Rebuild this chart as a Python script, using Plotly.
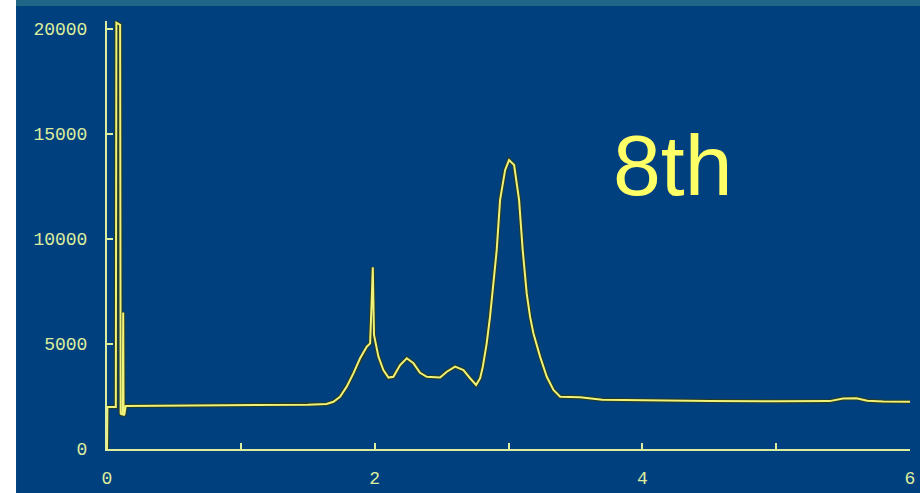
import plotly.graph_objects as go

# Retention time (min) and detector response
time_min = [0.000, 0.003, 0.060, 0.066, 0.070, 0.098, 0.102, 0.108, 0.118, 0.121, 0.124, 0.130, 0.140,
            0.50, 0.80, 1.20, 1.50, 1.64,
            1.692, 1.741, 1.791, 1.841, 1.891, 1.941, 1.966, 1.978, 1.986, 1.995, 2.028, 2.065, 2.103,
            2.140, 2.190, 2.240, 2.290, 2.339, 2.389, 2.489, 2.539, 2.601, 2.663, 2.713, 2.758, 2.788,
            2.808, 2.837, 2.862, 2.887, 2.912, 2.937, 2.975, 3.004, 3.042, 3.079, 3.106, 3.136, 3.161,
            3.186, 3.236, 3.286, 3.336, 3.386, 3.535, 3.70, 4.00, 4.50, 5.00, 5.40, 5.50, 5.60, 5.68,
            5.80, 6.02]
response = [0, 2000, 2000, 2000, 20300, 20200, 1700, 1650, 1650, 6500, 1600, 1650, 2050,
            2060, 2080, 2100, 2110, 2140,
            2250, 2490, 2970, 3600, 4320, 4870, 5030, 7100, 8650, 5430, 4400, 3760, 3400,
            3440, 4000, 4320, 4080, 3630, 3440, 3410, 3680, 3920, 3760, 3370, 3050, 3370,
            3920, 5030, 6300, 7890, 9480, 11860, 13290, 13760, 13520, 11860, 9480, 7410, 6300,
            5510, 4400, 3440, 2810, 2490, 2460, 2350, 2320, 2280, 2270, 2280, 2400, 2420, 2300,
            2260, 2250]

x_tickvals = [0, 1, 2, 3, 4, 5, 6]
x_ticktext = ["0", "", "2", "", "4", "", "6"]
y_tickvals = [0, 5000, 10000, 15000, 20000]
y_ticktext = ["0", "5000", "10000", "15000", "20000"]
label_text = "8th"

BG = "#01407f"
AX = "#dcee9c"
TICKFONT = dict(family="Liberation Mono", size=18, color="#dcee9c")

fig = go.Figure()
# dark halo under the trace (scan look)
fig.add_trace(go.Scatter(x=time_min, y=response, mode="lines",
                         line=dict(color="rgba(45,60,20,0.85)", width=4.2),
                         hoverinfo="skip", showlegend=False))
fig.add_trace(go.Scatter(x=time_min, y=response, mode="lines",
                         line=dict(color="#f0f27a", width=2),
                         showlegend=False))

fig.add_annotation(x=4.23, y=13520, xref="x", yref="y", text=label_text,
                   showarrow=False,
                   font=dict(family="Liberation Sans", size=86, color="#ffff66"))

# white left strip and teal top strip of the scanned slide
fig.add_shape(type="rect", xref="paper", yref="paper", x0=-0.14, x1=-0.1133, y0=-0.2, y1=1.1,
              fillcolor="white", line=dict(width=0), layer="below")
fig.add_shape(type="rect", xref="paper", yref="paper", x0=-0.1133, x1=1.05, y0=1.035, y1=1.1,
              fillcolor="#1f6585", line=dict(width=0), layer="below")

fig.update_layout(
    width=920, height=493,
    margin=dict(l=107, r=10, t=21, b=44),
    paper_bgcolor=BG, plot_bgcolor=BG,
    showlegend=False,
    xaxis=dict(range=[0, 6], tickvals=x_tickvals, ticktext=x_ticktext,
               ticks="inside", ticklen=6, tickwidth=1.5, tickcolor=AX,
               showline=True, linecolor=AX, linewidth=2, showgrid=False, zeroline=False,
               tickfont=TICKFONT, ticklabelstandoff=11, automargin=False),
    yaxis=dict(range=[0, 20381], tickvals=y_tickvals, ticktext=y_ticktext,
               ticks="inside", ticklen=6, tickwidth=1.5, tickcolor=AX,
               showline=True, linecolor=AX, linewidth=2, showgrid=False, zeroline=False,
               tickfont=TICKFONT, ticklabelstandoff=14, automargin=False),
)

fig.write_html("out.html", config={"displayModeBar": False},
               post_script="document.body.style.margin='0';document.body.style.background='%s';" % BG)
